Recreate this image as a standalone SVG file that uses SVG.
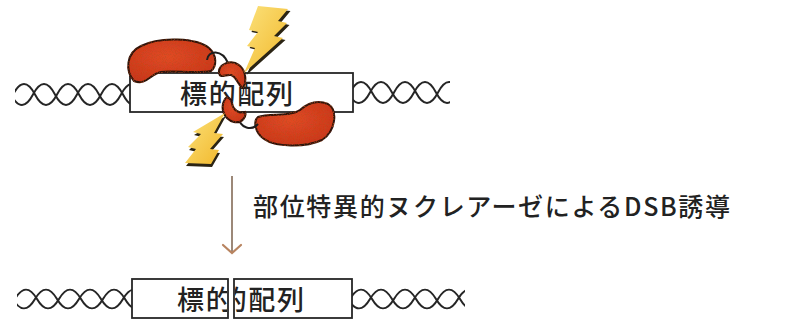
<svg xmlns="http://www.w3.org/2000/svg" xmlns:xlink="http://www.w3.org/1999/xlink" width="787" height="324" viewBox="0 0 787 324">
  <style>
    .strand { fill: none; stroke: #262626; stroke-width: 2; }
    .box { fill: #ffffff; stroke: #262626; stroke-width: 1.8; }
    .seq { font-family: "Noto Sans CJK JP", "Noto Sans", sans-serif; font-size: 27px; font-weight: 500; fill: #222; }
    .label { font-family: "Noto Sans CJK JP", "Noto Sans", sans-serif; font-size: 25px; font-weight: 500; fill: #222; }
    .bean { fill: url(#beanFill); stroke: #2e130a; stroke-width: 2; filter: url(#grain); }
    .linker { fill: none; stroke: #1e1e1e; stroke-width: 2; }
    .bolt { fill: url(#boltFill); }
    .bolt-shade { fill: #2b2414; }
    .arrow { fill: none; stroke: #9c8878; stroke-width: 2; }
    .arrow-head { fill: none; stroke: #b88460; stroke-width: 2.2; stroke-linecap: round; }
  </style>
  <defs>
    <!-- one helix strand, centred on y=0, period 44 -->
    <path id="strand" class="strand" d="M -46,0 Q -35,-21 -24,0 T -2,0 T 20,0 T 42,0 T 64,0 T 86,0 T 108,0 T 130,0 T 152,0 T 174,0"/>
    <radialGradient id="beanFill" cx="0.45" cy="0.4" r="0.7">
      <stop offset="0" stop-color="#e04a24"/>
      <stop offset="1" stop-color="#c8341a"/>
    </radialGradient>
    <linearGradient id="boltFill" x1="0" y1="0" x2="1" y2="1">
      <stop offset="0" stop-color="#fbe27c"/>
      <stop offset="1" stop-color="#f2b72a"/>
    </linearGradient>
    <!-- speckled surface for the protein shapes -->
    <filter id="grain" x="-5%" y="-5%" width="110%" height="110%">
      <feTurbulence type="fractalNoise" baseFrequency="0.9" numOctaves="1" seed="3" result="noise"/>
      <feColorMatrix in="noise" type="matrix" values="0 0 0 0 0.45  0 0 0 0 0.08  0 0 0 0 0.02  0 0 0 2.2 -1.1" result="spots"/>
      <feComposite in="spots" in2="SourceGraphic" operator="in" result="clipped"/>
      <feMerge><feMergeNode in="SourceGraphic"/><feMergeNode in="clipped"/></feMerge>
    </filter>
    <clipPath id="clipTL"><rect x="15" y="70" width="116" height="50"/></clipPath>
    <clipPath id="clipTR"><rect x="352" y="70" width="98" height="50"/></clipPath>
    <clipPath id="clipBL"><rect x="17" y="276" width="116" height="48"/></clipPath>
    <clipPath id="clipBR"><rect x="351" y="276" width="114" height="48"/></clipPath>
    <clipPath id="clipCut1"><rect x="133" y="280" width="94" height="37"/></clipPath>
    <clipPath id="clipCut2"><rect x="235" y="280" width="116" height="37"/></clipPath>
    <polygon id="boltUp" points="258,6 288,9 278,21 287,23 274,36 283,38 244,73 255,48 247,46 258,32 249,30"/>
    <polygon id="boltDown" points="225,113 214,133 223,134 210,149 219,150 211,164 185,163 196,149 188,147 201,134 193,132"/>
  </defs>

  <!-- upper DNA: intact target site -->
  <g id="dna-top">
    <g clip-path="url(#clipTL)">
      <use xlink:href="#strand" transform="translate(15,94.5)"/>
      <use xlink:href="#strand" transform="translate(35,94.5)"/>
    </g>
    <g clip-path="url(#clipTR)">
      <use xlink:href="#strand" transform="translate(352,92.5)"/>
      <use xlink:href="#strand" transform="translate(372,92.5)"/>
    </g>
  </g>

  <g id="target-top">
    <rect class="box" x="130" y="73" width="223" height="39"/>
    <text class="seq" x="180" y="104" textLength="113" lengthAdjust="spacing">標的配列</text>
  </g>

  <!-- nuclease pair bound on both sides of the site -->
  <g id="nuclease-left">
    <path class="bean" d="M 134,81 C 125,71 126,53 141,46 C 160,36 197,38 209,48 C 217,55 217,66 211,71 C 196,74 172,70 161,72 C 150,74 146,86 134,81 Z"/>
    <path class="linker" d="M 207,60 C 208,50 222,49 228,63"/>
    <path class="bean" d="M 219,73 C 218,64 231,59 239,65 C 246,70 247,82 243,88 C 239,87 237,77 231,75 C 226,74 220,79 219,73 Z"/>
  </g>
  <g id="nuclease-right">
    <path class="bean" d="M 258,117 C 270,113 290,117 300,110 C 308,103 318,100 328,104 C 338,110 336,131 322,140 C 305,148 275,147 264,139 C 255,133 253,121 258,117 Z"/>
    <path class="linker" d="M 238,116 C 240,129 252,131 258,124"/>
    <path class="bean" d="M 225,99 C 220,107 223,119 234,122 C 242,124 247,116 245,112 C 239,114 233,110 232,103 C 231,98 227,96 225,99 Z"/>
  </g>

  <!-- cleavage bolts -->
  <g id="bolt-upper">
    <use xlink:href="#boltUp" class="bolt-shade" transform="translate(2.5,2)"/>
    <use xlink:href="#boltUp" class="bolt"/>
  </g>
  <g id="bolt-lower">
    <use xlink:href="#boltDown" class="bolt-shade" transform="translate(1,3)"/>
    <use xlink:href="#boltDown" class="bolt"/>
  </g>

  <!-- connector -->
  <g id="connectors">
    <line class="arrow" x1="232" y1="176" x2="232" y2="252"/>
    <polyline class="arrow-head" points="223,245 232,253 241,245"/>
  </g>

  <g id="step-label">
    <text class="label" x="253" y="216" textLength="477" lengthAdjust="spacing">部位特異的ヌクレアーゼによるDSB誘導</text>
  </g>

  <!-- lower DNA: site cut into two ends -->
  <g id="dna-bottom">
    <g clip-path="url(#clipBL)">
      <use xlink:href="#strand" transform="translate(17,299) scale(1,0.9)"/>
      <use xlink:href="#strand" transform="translate(37,299) scale(1,0.9)"/>
    </g>
    <g clip-path="url(#clipBR)">
      <use xlink:href="#strand" transform="translate(352,299) scale(1,0.9)"/>
      <use xlink:href="#strand" transform="translate(372,299) scale(1,0.9)"/>
    </g>
  </g>

  <g id="target-cut-left">
    <rect class="box" x="132" y="279" width="96" height="39"/>
    <text class="seq" x="177" y="310" textLength="113" lengthAdjust="spacing" clip-path="url(#clipCut1)">標的配列</text>
  </g>
  <g id="target-cut-right">
    <rect class="box" x="234" y="279" width="118" height="39"/>
    <text class="seq" x="191" y="310" textLength="113" lengthAdjust="spacing" clip-path="url(#clipCut2)">標的配列</text>
  </g>
</svg>
